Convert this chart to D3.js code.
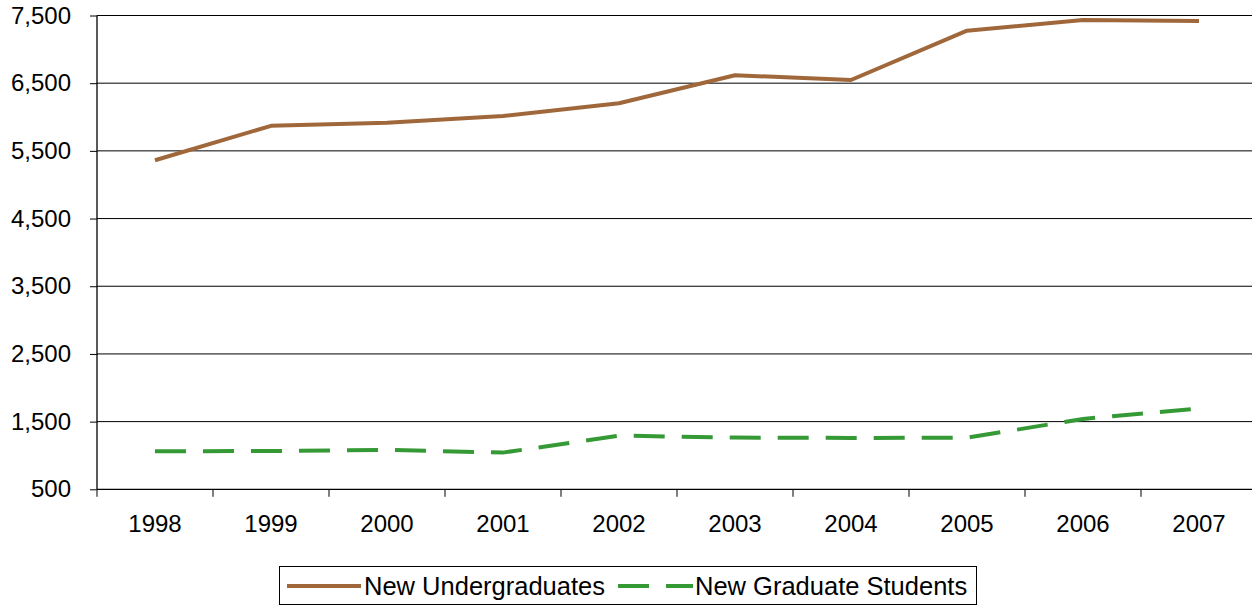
<!DOCTYPE html>
<html>
<head>
<meta charset="utf-8">
<script src="https://cdn.jsdelivr.net/npm/d3@7"></script>
<style>
  html, body { margin: 0; padding: 0; background: #fff; }
  svg { display: block; font-family: "Liberation Sans", Arial, sans-serif; }
</style>
</head>
<body>
<svg id="chart" width="1252" height="606"></svg>
<script>
const years = ["1998","1999","2000","2001","2002","2003","2004","2005","2006","2007"];
const undergraduates = [5361, 5870, 5917, 6015, 6203, 6617, 6547, 7276, 7434, 7419];
const graduates = [1063, 1065, 1082, 1042, 1293, 1264, 1259, 1262, 1540, 1692];
const yTicks = [500, 1500, 2500, 3500, 4500, 5500, 6500, 7500];
const seriesNames = ["New Undergraduates", "New Graduate Students"];
const seriesColors = ["#A0683A", "#359A35"];

(function () {
const svg = d3.select("#chart");
const mLeft = 97, mRight = 1257, mTop = 15.5, mBottom = 489.3;

const x = d3.scaleBand().domain(years).range([mLeft, mRight]).padding(0);
const y = d3.scaleLinear().domain([500, 7500]).range([mBottom, mTop]);

// gridlines
svg.append("g").selectAll("line").data(yTicks.slice(1)).join("line")
  .attr("x1", mLeft).attr("x2", mRight)
  .attr("y1", d => y(d)).attr("y2", d => y(d))
  .attr("stroke", "#000").attr("stroke-width", 1);

// y axis
const yAxis = svg.append("g").attr("transform", `translate(${mLeft},0)`)
  .call(d3.axisLeft(y).tickValues(yTicks).tickSize(7).tickPadding(19).tickFormat(d3.format(",")));
yAxis.select(".domain").attr("stroke", "#000").attr("stroke-width", 1.3)
  .attr("d", `M0,${mTop}V${mBottom}`);
yAxis.selectAll(".tick line").attr("stroke", "#000");
yAxis.selectAll("text").attr("font-size", 24).attr("fill", "#000")
  .attr("font-family", "Liberation Sans, Arial, sans-serif");

// x axis
const xAxis = svg.append("g").attr("transform", `translate(0,${mBottom})`)
  .call(d3.axisBottom(x).tickSize(0).tickPadding(26));
xAxis.select(".domain").attr("stroke", "#000").attr("stroke-width", 1.3)
  .attr("d", `M${mLeft},0H${mRight}`);
xAxis.selectAll("text").attr("font-size", 24).attr("fill", "#000")
  .attr("font-family", "Liberation Sans, Arial, sans-serif");
// category boundary ticks
const bounds = years.map(d => x(d)).concat([x(years[years.length - 1]) + x.bandwidth()]);
xAxis.append("g").selectAll("line").data(bounds).join("line")
  .attr("x1", d => d).attr("x2", d => d).attr("y1", 0).attr("y2", 7.5)
  .attr("stroke", "#000").attr("stroke-width", 1);

const line = d3.line().x((d, i) => x(years[i]) + x.bandwidth() / 2).y(d => y(d));

svg.append("path").datum(undergraduates)
  .attr("d", line).attr("fill", "none")
  .attr("stroke", seriesColors[0]).attr("stroke-width", 4)
  .attr("stroke-linejoin", "round");

svg.append("path").datum(graduates)
  .attr("d", line).attr("fill", "none")
  .attr("stroke", seriesColors[1]).attr("stroke-width", 4)
  .attr("stroke-dasharray", "31,17");

// legend
const lg = svg.append("g");
lg.append("rect").attr("x", 279.5).attr("y", 566.5).attr("width", 697).attr("height", 38)
  .attr("fill", "#fff").attr("stroke", "#000").attr("stroke-width", 1);
const ly = 586;
lg.append("line").attr("x1", 287).attr("x2", 361).attr("y1", ly).attr("y2", ly)
  .attr("stroke", seriesColors[0]).attr("stroke-width", 4);
lg.append("text").attr("x", 364).attr("y", ly).attr("dy", "0.35em")
  .attr("font-size", 25.5).attr("fill", "#000").text(seriesNames[0]);
lg.append("line").attr("x1", 618).attr("x2", 693).attr("y1", ly).attr("y2", ly)
  .attr("stroke", seriesColors[1]).attr("stroke-width", 4)
  .attr("stroke-dasharray", "31,17");
lg.append("text").attr("x", 695).attr("y", ly).attr("dy", "0.35em")
  .attr("font-size", 25.5).attr("fill", "#000").text(seriesNames[1]);
})();
</script>
</body>
</html>
